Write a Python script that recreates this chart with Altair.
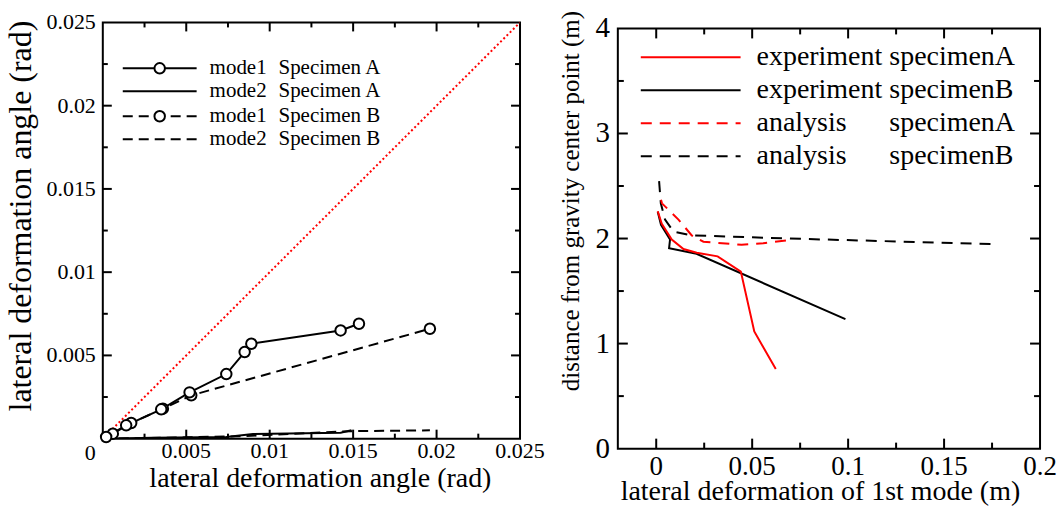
import altair as alt
import pandas as pd

SERIF = "Liberation Serif"

# ---------------- left panel data (rad) ----------------
m1A_x = [0.0002, 0.0014, 0.0035, 0.0052, 0.0074, 0.0085, 0.0089, 0.01425, 0.01535]
m1A_y = [0.0001, 0.0008, 0.00176, 0.00278, 0.00388, 0.0052, 0.0057, 0.0065, 0.0069]
m1B_x = [0.0006, 0.0017, 0.0036, 0.0053, 0.0196]
m1B_y = [0.0003, 0.00094, 0.0018, 0.0026, 0.0066]
m2A_x = [0.0, 0.003, 0.0074, 0.009, 0.01425, 0.0149]
m2A_y = [0.0, 0.00005, 0.0001, 0.00028, 0.00036, 0.0005]
m2B_x = [0.0, 0.005, 0.0085, 0.0149, 0.0196]
m2B_y = [0.0, 0.00008, 0.00015, 0.00045, 0.0005]
diag_x = [0.0, 0.025]
diag_y = [0.0, 0.025]

left_labels_x = [0.005, 0.01, 0.015, 0.02, 0.025]
left_labels_y = [0.005, 0.01, 0.015, 0.02, 0.025]
left_corner_label = [0]
left_major = [0.005, 0.01, 0.015, 0.02]
left_minor = [0.0025, 0.0075, 0.0125, 0.0175, 0.0225]
left_xtitle = "lateral deformation angle (rad)"
left_ytitle = "lateral deformation angle (rad)"
left_legend_a = ["mode1", "mode2", "mode1", "mode2"]
left_legend_b = ["Specimen A", "Specimen A", "Specimen B", "Specimen B"]

# ---------------- right panel data (m) ----------------
expA_x = [0.0008, 0.0029, 0.0081, 0.0142, 0.0211, 0.032, 0.0441, 0.0511, 0.0623]
expA_y = [2.26, 2.14, 1.99, 1.90, 1.865, 1.83, 1.685, 1.115, 0.757]
expB_x = [0.0008, 0.0025, 0.0072, 0.0067, 0.021, 0.0986]
expB_y = [2.255, 2.13, 1.99, 1.907, 1.855, 1.232]
anaA_x = [0.0025, 0.003, 0.0116, 0.0185, 0.0246, 0.0445, 0.0558, 0.0696]
anaA_y = [2.37, 2.335, 2.18, 2.03, 1.97, 1.94, 1.955, 1.986]
anaB_x = [0.0015, 0.0024, 0.0046, 0.009, 0.0185, 0.0688, 0.1745]
anaB_y = [2.546, 2.335, 2.18, 2.065, 2.03, 2.0, 1.948]

right_labels_x = [0, 0.05, 0.1, 0.15, 0.2]
right_labels_y = [0, 1, 2, 3, 4]
right_major_x = [0, 0.05, 0.1, 0.15]
right_minor_x = [0.025, 0.075, 0.125, 0.175]
right_major_y = [1, 2, 3]
right_minor_y = [0.5, 1.5, 2.5, 3.5]
right_xtitle = "lateral deformation of 1st mode (m)"
right_ytitle = "distance from gravity center point (m)"
right_legend_a = ["experiment", "experiment", "analysis", "analysis"]
right_legend_b = ["specimenA", "specimenB", "specimenA", "specimenB"]

ONE = pd.DataFrame({"k": [0]})


def df_of(xs, ys):
    return pd.DataFrame({"x": xs, "y": ys, "i": list(range(len(xs)))})


def X(sc, f="x"):
    return alt.X(f"{f}:Q", scale=sc, axis=None)


def Y(sc, f="y"):
    return alt.Y(f"{f}:Q", scale=sc, axis=None)


def line(xs, ys, xsc, ysc, color="black", dash=None, width=2):
    kw = dict(color=color, strokeWidth=width, clip=True)
    if dash:
        kw["strokeDash"] = dash
    return alt.Chart(df_of(xs, ys)).mark_line(**kw).encode(
        x=X(xsc), y=Y(ysc), order="i:Q")


def circles(xs, ys, xsc, ysc):
    return alt.Chart(df_of(xs, ys)).mark_point(
        shape="circle", size=110, filled=True, fill="white", stroke="black",
        strokeWidth=2, opacity=1).encode(x=X(xsc), y=Y(ysc))


def tick_marks(xsc, ysc, xdom, ydom, W, H, xmaj, xmin, ymaj, ymin, lmaj, lmin):
    """Inward ticks on all four sides, drawn as stroke-only point symbols."""
    ypp = (ydom[1] - ydom[0]) / H
    xpp = (xdom[1] - xdom[0]) / W
    layers = []
    for vals, ln in ((xmaj, lmaj), (xmin, lmin)):
        c = ln / 2 * ypp
        d = pd.DataFrame({"px": vals * 2,
                          "py": [ydom[0] + c] * len(vals) + [ydom[1] - c] * len(vals)})
        layers.append(alt.Chart(d).mark_point(
            shape="M0,-1L0,1", size=ln * ln, filled=False, stroke="black",
            strokeWidth=2, opacity=1).encode(x=X(xsc, "px"), y=Y(ysc, "py")))
    for vals, ln in ((ymaj, lmaj), (ymin, lmin)):
        c = ln / 2 * xpp
        d = pd.DataFrame({"px": [xdom[0] + c] * len(vals) + [xdom[1] - c] * len(vals),
                          "py": vals * 2})
        layers.append(alt.Chart(d).mark_point(
            shape="M-1,0L1,0", size=ln * ln, filled=False, stroke="black",
            strokeWidth=2, opacity=1).encode(x=X(xsc, "px"), y=Y(ysc, "py")))
    return layers


def xlabels(vals, sc, ypix, size):
    return alt.Chart(pd.DataFrame({"lx": vals})).mark_text(
        font=SERIF, fontSize=size, align="center", baseline="alphabetic", color="black").encode(
        x=X(sc, "lx"), y=alt.value(ypix), text=alt.Text("lx:Q", format="~g"))


def ylabels(vals, sc, xpix, size, dy=0):
    return alt.Chart(pd.DataFrame({"ly": vals})).mark_text(
        font=SERIF, fontSize=size, align="right", baseline="middle", color="black", dy=dy).encode(
        y=Y(sc, "ly"), x=alt.value(xpix), text=alt.Text("ly:Q", format="~g"))


def text_at(txt, x, y, size, align="left", baseline="middle", angle=0):
    kw = dict(font=SERIF, fontSize=size, align=align, baseline=baseline, color="black")
    if angle:
        kw["angle"] = angle
    return alt.Chart(ONE).mark_text(**kw).encode(
        x=alt.value(x), y=alt.value(y), text=alt.value(txt))


# ---------------- left panel ----------------
LW, LH = 418, 417
LXD, LYD = [0, 0.025], [0, 0.025]
lxs = alt.Scale(domain=LXD, nice=False, zero=False)
lys = alt.Scale(domain=LYD, nice=False, zero=False)

left_layers = [
    line(diag_x, diag_y, lxs, lys, color="red", dash=[2, 2.5], width=2),
    line(m2A_x, m2A_y, lxs, lys),
    line(m2B_x, m2B_y, lxs, lys, dash=[10, 6]),
    line(m1B_x, m1B_y, lxs, lys, dash=[10, 6]),
    line(m1A_x, m1A_y, lxs, lys),
    circles(m1B_x, m1B_y, lxs, lys),
    circles(m1A_x, m1A_y, lxs, lys),
]
left_layers += tick_marks(lxs, lys, LXD, LYD, LW, LH, left_major, left_minor,
                          left_major, left_minor, 9, 5)
left_layers += [
    xlabels(left_labels_x, lxs, LH + 19, 22),
    ylabels(left_labels_y, lys, -7, 22),
    ylabels(left_corner_label, lys, -7, 22, dy=14),
    text_at(left_xtitle, 218, LH + 48, 28, align="center", baseline="alphabetic"),
    text_at(left_ytitle, -65, 194, 32, align="center", baseline="bottom", angle=270),
]
l_rows = [46, 69, 94, 117]
l_dash = [None, None, [10, 6], [10, 6]]
l_circ = [True, False, True, False]
for k in range(4):
    kw = dict(color="black", strokeWidth=2)
    if l_dash[k]:
        kw["strokeDash"] = l_dash[k]
    left_layers.append(alt.Chart(ONE).mark_rule(**kw).encode(
        x=alt.value(20), x2=alt.value(94), y=alt.value(l_rows[k])))
    if l_circ[k]:
        left_layers.append(alt.Chart(ONE).mark_point(
            shape="circle", size=110, filled=True, fill="white", stroke="black",
            strokeWidth=2, opacity=1).encode(x=alt.value(57), y=alt.value(l_rows[k])))
    left_layers.append(text_at(left_legend_a[k], 107, l_rows[k], 21))
    left_layers.append(text_at(left_legend_b[k], 176, l_rows[k], 21))

left = alt.layer(*left_layers).properties(width=LW, height=LH)

# ---------------- right panel ----------------
RW, RH = 423, 421
RXD, RYD = [-0.02, 0.2], [0, 4]
rxs = alt.Scale(domain=RXD, nice=False, zero=False)
rys = alt.Scale(domain=RYD, nice=False, zero=False)

right_layers = [
    line(anaB_x, anaB_y, rxs, rys, dash=[11, 8]),
    line(anaA_x, anaA_y, rxs, rys, color="red", dash=[11, 8]),
    line(expB_x, expB_y, rxs, rys),
    line(expA_x, expA_y, rxs, rys, color="red"),
]
right_layers += tick_marks(rxs, rys, RXD, RYD, RW, RH, right_major_x, right_minor_x,
                           right_major_y, right_minor_y, 10, 6)
right_layers += [
    xlabels(right_labels_x, rxs, RH + 26, 27),
    ylabels(right_labels_y, rys, -8, 29),
    text_at(right_xtitle, 203, RH + 51, 28, align="center", baseline="alphabetic"),
    text_at(right_ytitle, -34, 173, 25, align="center", baseline="bottom", angle=270),
]
r_rows = [29, 62, 95, 128]
r_col = ["red", "black", "red", "black"]
r_dash = [None, None, [11, 8], [11, 8]]
for k in range(4):
    kw = dict(color=r_col[k], strokeWidth=2)
    if r_dash[k]:
        kw["strokeDash"] = r_dash[k]
    right_layers.append(alt.Chart(ONE).mark_rule(**kw).encode(
        x=alt.value(23), x2=alt.value(123), y=alt.value(r_rows[k])))
    right_layers.append(text_at(right_legend_a[k], 139, r_rows[k], 28))
    right_layers.append(text_at(right_legend_b[k], 272, r_rows[k], 28))

right_panel = alt.layer(*right_layers).properties(width=RW, height=RH)

spacer = alt.Chart(ONE).mark_point(opacity=0, size=1).properties(
    width=1, height=6, view=alt.ViewBackground(stroke="transparent"))
right = alt.vconcat(spacer, right_panel, spacing=0, bounds="flush")

chart = alt.hconcat(left, right, spacing=98, bounds="flush").configure_view(
    stroke="black", strokeWidth=2).properties(
    padding={"left": 3, "top": 9, "right": 0, "bottom": 0}, background="white")

chart.save("out.html", embed_options={"renderer": "svg", "actions": False})
